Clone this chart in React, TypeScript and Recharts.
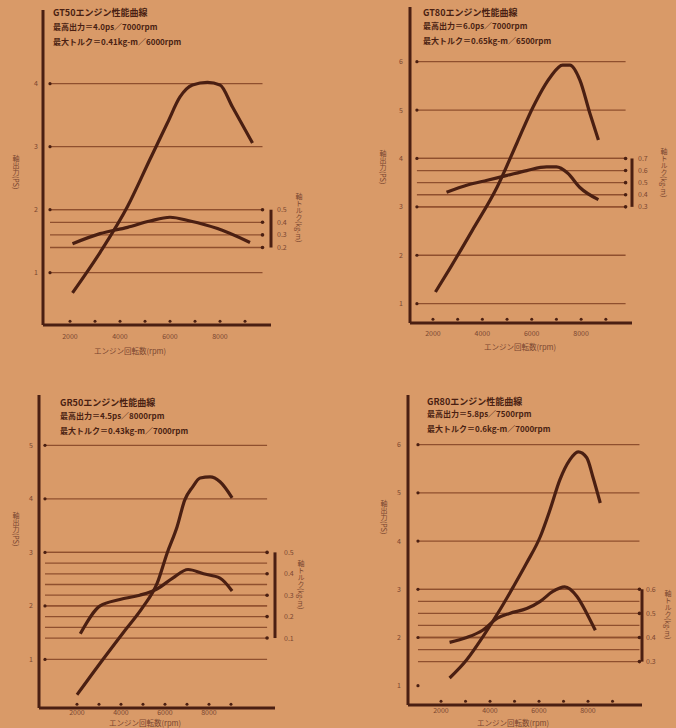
import { ComposedChart, Line, XAxis, YAxis, ReferenceLine, ReferenceDot } from 'recharts';

const BG = '#d99a68';
const INK = '#4a1f12';
const GRID = '#8f4f2e';
const SOFT = '#7a4630';
const FONT = "'Noto Sans CJK JP', 'Noto Sans', sans-serif";

// GT50
const gt50PowerRpm = [2100, 3200, 4300, 5200, 5900, 6400, 6900, 7500, 8000, 8500, 9300];
const gt50PowerPs = [0.68, 1.32, 2.05, 2.8, 3.38, 3.79, 3.98, 4.02, 3.98, 3.63, 3.06];
const gt50TorqueRpm = [2100, 3200, 4300, 5200, 6000, 6800, 7900, 9200];
const gt50TorqueKgm = [0.23, 0.31, 0.36, 0.41, 0.44, 0.41, 0.35, 0.24];

// GT80
const gt80PowerRpm = [2100, 2700, 3600, 4600, 5400, 6050, 6750, 7250, 7550, 7950, 8350, 8700];
const gt80PowerPs = [1.24, 1.74, 2.52, 3.41, 4.32, 5.06, 5.68, 5.93, 5.93, 5.62, 4.94, 4.38];
const gt80TorqueRpm = [2550, 3400, 4200, 5000, 5800, 6600, 7000, 7450, 7950, 8700];
const gt80TorqueKgm = [0.42, 0.48, 0.52, 0.56, 0.6, 0.63, 0.63, 0.58, 0.46, 0.36];

// GR50
const gr50PowerRpm = [2000, 3050, 4100, 5000, 5650, 6100, 6550, 6900, 7250, 7600, 8050, 8500, 9050];
const gr50PowerPs = [0.34, 0.93, 1.5, 1.98, 2.43, 2.99, 3.48, 3.98, 4.22, 4.39, 4.41, 4.32, 4.02];
const gr50TorqueRpm = [2150, 3050, 3950, 4850, 5650, 6350, 7050, 7750, 8500, 9050];
const gr50TorqueKgm = [0.12, 0.25, 0.28, 0.3, 0.33, 0.38, 0.42, 0.4, 0.38, 0.32];

// GR80
const gr80PowerRpm = [2350, 3050, 3700, 4400, 4950, 5500, 6050, 6450, 6850, 7250, 7600, 7950, 8200, 8500];
const gr80PowerPs = [1.16, 1.54, 2.01, 2.57, 3.05, 3.55, 4.09, 4.65, 5.27, 5.68, 5.85, 5.73, 5.33, 4.79];
const gr80TorqueRpm = [2350, 3050, 3700, 4300, 4800, 5500, 6050, 6550, 7050, 7550, 7950, 8300];
const gr80TorqueKgm = [0.38, 0.4, 0.43, 0.48, 0.5, 0.52, 0.55, 0.59, 0.61, 0.57, 0.5, 0.43];

const rpmTicks = [2000, 4000, 6000, 8000];
const rpmDots = [2000, 3000, 4000, 5000, 6000, 7000, 8000, 9000];

const zip = (rpm: number[], v: number[]) => rpm.map((r, i) => ({ rpm: r, v: v[i] }));

type PanelProps = {
  left: number; top: number; width: number; height: number;
  margin: { top: number; right: number; bottom: number; left: number };
  yw: number; rw: number; xh: number; xtm: number; ytm: number; rtm: number;
  xDomain: [number, number]; yDomain: [number, number];
  psRef: number; tRef: number; tPerPs: number;
  psTicks: number[]; psGrid: number[];
  tLines: number[]; tLabels: number[];
  gridFrom: number; gridTo: number;
  power: { rpm: number; v: number }[];
  torque: { rpm: number; v: number }[];
};

function Panel(p: PanelProps) {
  // torque axis is tied to the power axis so the printed grid lines coincide
  const toT = (ps: number) => p.tRef + (ps - p.psRef) * p.tPerPs;
  const tDomain: [number, number] = [toT(p.yDomain[0]), toT(p.yDomain[1])];
  const dotY = p.yDomain[0] + (p.yDomain[1] - p.yDomain[0]) * 0.012;
  return (
    <ComposedChart
      width={p.width}
      height={p.height}
      margin={p.margin}
      style={{ position: 'absolute', left: p.left, top: p.top }}
    >
      <XAxis
        type="number" dataKey="rpm" domain={p.xDomain} ticks={rpmTicks} allowDataOverflow interval={0}
        height={p.xh} tickLine={false} tickSize={0} tickMargin={p.xtm}
        axisLine={{ stroke: INK, strokeWidth: 3 }}
        tick={{ fill: SOFT, fontSize: 7, fontFamily: FONT }}
      />
      <YAxis
        yAxisId="l" type="number" domain={p.yDomain} ticks={p.psTicks} allowDataOverflow interval={0}
        width={p.yw} tickLine={false} tickSize={0} tickMargin={p.ytm}
        axisLine={{ stroke: INK, strokeWidth: 3 }}
        tick={{ fill: SOFT, fontSize: 7, fontFamily: FONT }}
      />
      <YAxis
        yAxisId="r" orientation="right" type="number" domain={tDomain} ticks={p.tLabels} allowDataOverflow interval={0}
        width={p.rw} tickLine={false} tickSize={0} axisLine={false} tickMargin={p.rtm}
        tickFormatter={(v: number) => v.toFixed(1)}
        tick={{ fill: SOFT, fontSize: 7, fontFamily: FONT }}
      />
      {p.psGrid.map((v) => (
        <ReferenceLine key={'g' + v} yAxisId="l" stroke={GRID} strokeWidth={1.3}
          segment={[{ x: p.gridFrom, y: v }, { x: p.gridTo, y: v }]} />
      ))}
      {p.psTicks.map((v) => (
        <ReferenceDot key={'gd' + v} yAxisId="l" x={p.gridFrom} y={v} r={1.6} fill={INK} stroke="none" />
      ))}
      {p.tLines.map((v) => (
        <ReferenceLine key={'t' + v} yAxisId="r" stroke={GRID} strokeWidth={1.3}
          segment={[{ x: p.gridFrom, y: v }, { x: p.gridTo, y: v }]} />
      ))}
      {p.tLabels.map((v) => (
        <ReferenceDot key={'td' + v} yAxisId="r" x={p.gridTo} y={v} r={1.8} fill={INK} stroke="none" />
      ))}
      <ReferenceLine yAxisId="r" stroke={INK} strokeWidth={3}
        segment={[{ x: p.xDomain[1], y: Math.min(...p.tLabels) }, { x: p.xDomain[1], y: Math.max(...p.tLabels) }]} />
      {rpmDots.map((r) => (
        <ReferenceDot key={'x' + r} yAxisId="l" x={r} y={dotY} r={1.5} fill={INK} stroke="none" />
      ))}
      <Line data={p.power} dataKey="v" yAxisId="l" type="monotone" stroke={INK} strokeWidth={3.2}
        dot={false} isAnimationActive={false} />
      <Line data={p.torque} dataKey="v" yAxisId="r" type="monotone" stroke={INK} strokeWidth={3.2}
        dot={false} isAnimationActive={false} />
    </ComposedChart>
  );
}

const txt = (left: number, top: number, s: string, size = 8) => (
  <div style={{ position: 'absolute', left, top, fontSize: size, fontWeight: 700, color: INK, fontFamily: FONT, whiteSpace: 'nowrap', lineHeight: 1 }}>
    {s}
  </div>
);
const vtxt = (left: number, top: number, s: string) => (
  <div style={{ position: 'absolute', left, top, fontSize: 7, color: SOFT, fontFamily: FONT, writingMode: 'vertical-rl', whiteSpace: 'nowrap', lineHeight: 1 }}>
    {s}
  </div>
);
const xlabel = (cx: number, top: number) => (
  <div style={{ position: 'absolute', left: cx - 50, top, width: 100, textAlign: 'center', fontSize: 7.5, color: SOFT, fontFamily: FONT, lineHeight: 1 }}>
    エンジン回転数(rpm)
  </div>
);

export default function App() {
  return (
    <div style={{ position: 'absolute', left: 0, top: 0, width: 676, height: 728, background: BG, overflow: 'hidden' }}>
      <Panel
        left={0} top={0} width={320} height={365}
        margin={{ top: 10, right: 0, bottom: 10, left: 0 }}
        yw={43} rw={49} xh={30} xtm={9} ytm={5} rtm={6}
        xDomain={[920, 10040]} yDomain={[0.17, 5.17]}
        psRef={2} tRef={0.5} tPerPs={0.5}
        psTicks={[1, 2, 3, 4]} psGrid={[1, 2, 3, 4]}
        tLines={[0.2, 0.3, 0.4, 0.5]} tLabels={[0.2, 0.3, 0.4, 0.5]}
        gridFrom={1200} gridTo={9700}
        power={zip(gt50PowerRpm, gt50PowerPs)} torque={zip(gt50TorqueRpm, gt50TorqueKgm)}
      />
      <Panel
        left={340} top={0} width={336} height={365}
        margin={{ top: 7, right: 0, bottom: 12, left: 0 }}
        yw={70} rw={44} xh={30} xtm={8} ytm={7} rtm={6}
        xDomain={[1070, 10060]} yDomain={[0.6, 7.13]}
        psRef={3} tRef={0.3} tPerPs={0.4}
        psTicks={[1, 2, 3, 4, 5, 6]} psGrid={[1, 2, 3, 4, 5, 6]}
        tLines={[0.3, 0.4, 0.5, 0.6, 0.7]} tLabels={[0.3, 0.4, 0.5, 0.6, 0.7]}
        gridFrom={1350} gridTo={9800}
        power={zip(gt80PowerRpm, gt80PowerPs)} torque={zip(gt80TorqueRpm, gt80TorqueKgm)}
      />
      <Panel
        left={0} top={370} width={320} height={358}
        margin={{ top: 25, right: 0, bottom: 0, left: 0 }}
        yw={39} rw={45} xh={20} xtm={2} ytm={6} rtm={9}
        xDomain={[273, 11000]} yDomain={[0.093, 5.94]}
        psRef={3} tRef={0.5} tPerPs={0.25}
        psTicks={[1, 2, 3, 4, 5]} psGrid={[1, 2, 3, 4, 5]}
        tLines={[0.1, 0.15, 0.2, 0.25, 0.3, 0.35, 0.4, 0.45, 0.5]} tLabels={[0.1, 0.2, 0.3, 0.4, 0.5]}
        gridFrom={545} gridTo={10640}
        power={zip(gr50PowerRpm, gr50PowerPs)} torque={zip(gr50TorqueRpm, gr50TorqueKgm)}
      />
      <Panel
        left={340} top={370} width={336} height={358}
        margin={{ top: 25, right: 0, bottom: 0, left: 0 }}
        yw={68} rw={34} xh={23} xtm={3} ytm={7} rtm={4}
        xDomain={[653, 10204]} yDomain={[0.6, 7.03]}
        psRef={3} tRef={0.6} tPerPs={0.2}
        psTicks={[1, 2, 3, 4, 5, 6]} psGrid={[2, 3, 4, 5, 6]}
        tLines={[0.3, 0.35, 0.4, 0.45, 0.5, 0.55, 0.6]} tLabels={[0.3, 0.4, 0.5, 0.6]}
        gridFrom={1060} gridTo={10100}
        power={zip(gr80PowerRpm, gr80PowerPs)} torque={zip(gr80TorqueRpm, gr80TorqueKgm)}
      />

      {txt(53, 8, 'GT50エンジン性能曲線', 9)}
      {txt(53, 23, '最高出力＝4.0ps／7000rpm')}
      {txt(53, 38, '最大トルク＝0.41kg-m／6000rpm')}
      {txt(423, 8, 'GT80エンジン性能曲線', 9)}
      {txt(423, 22, '最高出力＝6.0ps／7000rpm')}
      {txt(423, 37, '最大トルク＝0.65kg-m／6500rpm')}
      {txt(60, 398, 'GR50エンジン性能曲線', 9)}
      {txt(60, 412, '最高出力＝4.5ps／8000rpm')}
      {txt(60, 427, '最大トルク＝0.43kg-m／7000rpm')}
      {txt(427, 397, 'GR80エンジン性能曲線', 9)}
      {txt(427, 410, '最高出力＝5.8ps／7500rpm')}
      {txt(427, 425, '最大トルク＝0.6kg-m／7000rpm')}

      {vtxt(12, 155, '軸出力(PS)')}
      {vtxt(379, 150, '軸出力(PS)')}
      {vtxt(12, 512, '軸出力(PS)')}
      {vtxt(380, 500, '軸出力(PS)')}
      {vtxt(295, 193, '軸トルク(kg-m)')}
      {vtxt(660, 148, '軸トルク(kg-m)')}
      {vtxt(297, 560, '軸トルク(kg-m)')}
      {vtxt(664, 590, '軸トルク(kg-m)')}

      {xlabel(130, 347)}
      {xlabel(520, 343)}
      {xlabel(145, 719)}
      {xlabel(513, 719)}
    </div>
  );
}
